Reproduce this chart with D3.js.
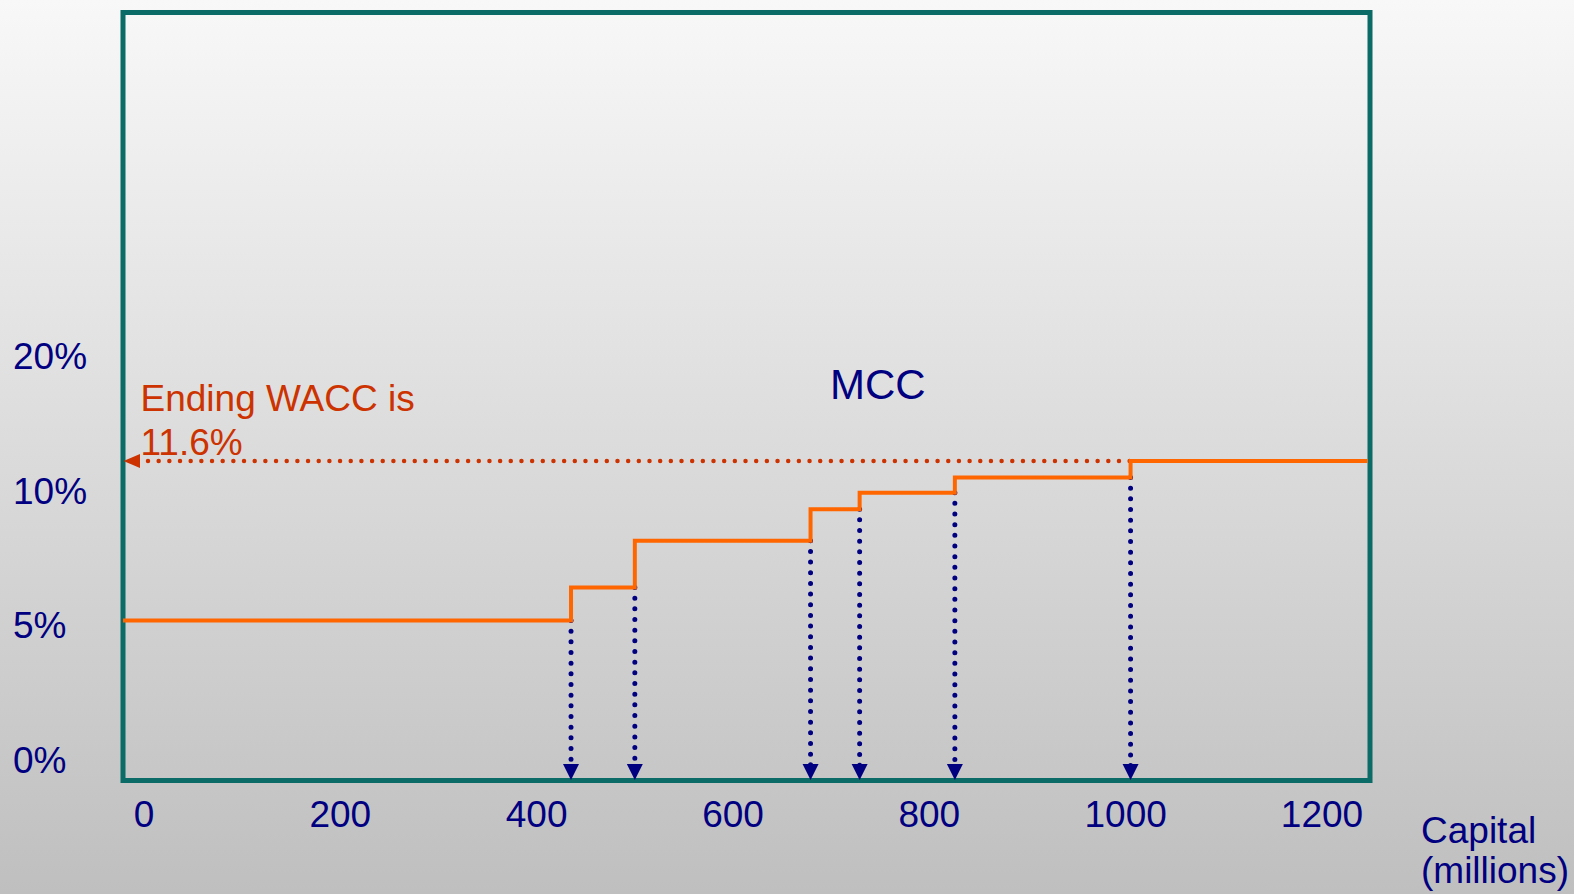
<!DOCTYPE html>
<html>
<head>
<meta charset="utf-8">
<script src="https://cdn.jsdelivr.net/npm/d3@7"></script>
<style>
  html, body { margin: 0; padding: 0; }
  body { width: 1574px; height: 894px; overflow: hidden; }
  text { font-family: "Liberation Sans", Arial, sans-serif; }
</style>
</head>
<body>
<svg id="chart" width="1574" height="894"></svg>
<script>
// ---- data ----
const breakpoints = [435, 500, 679, 729, 826, 1005];           // capital (millions) where WACC steps up
const waccLevels  = [5.8, 7.0, 8.7, 9.85, 10.45, 11.0, 11.6];   // WACC (%) of each segment
const xTickValues = [0, 200, 400, 600, 800, 1000, 1200];
const yTickLabels = ["0%", "5%", "10%", "20%"];
const endingWacc  = 11.6;
const annotationLines = ["Ending WACC is", "11.6%"];
const seriesLabel = "MCC";
const xTitleLines = ["Capital", "(millions)"];

// ---- layout ----
const W = 1574, H = 894;
const frame = { left: 123, right: 1370, top: 12.5, bottom: 780.5 };
const navy = "#000080", red = "#cc3300", orange = "#ff6600", teal = "#0b6b66";

const svg = d3.select("#chart");

// background gradient
const defs = svg.append("defs");
const grad = defs.append("linearGradient").attr("id", "bg")
  .attr("x1", 0).attr("y1", 0).attr("x2", 0).attr("y2", 1);
grad.append("stop").attr("offset", "0%").attr("stop-color", "#f8f8f8");
grad.append("stop").attr("offset", "100%").attr("stop-color", "#bfbfbf");
svg.append("rect").attr("width", W).attr("height", H).attr("fill", "url(#bg)");

// scales
const x = d3.scaleLinear().domain([0, 1200]).range([144, 1322]);
const y = d3.scaleLinear().domain([0, 11.6]).range([780, 461]);
const yLabelPos = d3.scalePoint().domain(yTickLabels).range([773, 369]);

// frame
svg.append("rect")
  .attr("x", frame.left).attr("y", frame.top)
  .attr("width", frame.right - frame.left).attr("height", frame.bottom - frame.top)
  .attr("fill", "none").attr("stroke", teal).attr("stroke-width", 5);

// step series points
const xStart = x.invert(frame.left), xEnd = x.invert(frame.right - 2.5);
const stepPts = [{c: xStart, v: waccLevels[0]}];
breakpoints.forEach((b, i) => stepPts.push({c: b, v: waccLevels[i + 1]}));
stepPts.push({c: xEnd, v: waccLevels[waccLevels.length - 1]});

// red dotted ending-WACC line
svg.append("line")
  .attr("x1", frame.left + 25).attr("x2", x(breakpoints[breakpoints.length - 1]))
  .attr("y1", y(endingWacc)).attr("y2", y(endingWacc))
  .attr("stroke", red).attr("stroke-width", 4.5)
  .attr("stroke-linecap", "round").attr("stroke-dasharray", "0 10.67");
svg.append("path")
  .attr("d", `M${frame.left + 0.5},${y(endingWacc)} L${frame.left + 17},${y(endingWacc) - 7} L${frame.left + 17},${y(endingWacc) + 7} Z`)
  .attr("fill", red);

// blue dotted drop lines with arrowheads
const drops = svg.append("g");
breakpoints.forEach((b, i) => {
  const px = x(b);
  drops.append("line")
    .attr("x1", px).attr("x2", px)
    .attr("y1", y(waccLevels[i])).attr("y2", 767)
    .attr("stroke", navy).attr("stroke-width", 5)
    .attr("stroke-linecap", "round").attr("stroke-dasharray", "0 10.67");
  drops.append("path")
    .attr("d", `M${px - 8},764 L${px + 8},764 L${px},780 Z`)
    .attr("fill", navy);
});

// step line
const line = d3.line().x(d => x(d.c)).y(d => y(d.v)).curve(d3.curveStepAfter);
svg.append("path").datum(stepPts)
  .attr("d", line)
  .attr("fill", "none").attr("stroke", orange).attr("stroke-width", 4);

// y labels
svg.append("g").selectAll("text").data(yTickLabels).join("text")
  .attr("x", 13).attr("y", d => yLabelPos(d))
  .attr("font-size", 37).attr("fill", navy).text(d => d);

// x labels
svg.append("g").selectAll("text").data(xTickValues).join("text")
  .attr("x", d => x(d)).attr("y", 827).attr("text-anchor", "middle")
  .attr("font-size", 37).attr("fill", navy).text(d => d);

// x title
svg.append("g").selectAll("text").data(xTitleLines).join("text")
  .attr("x", 1421).attr("y", (d, i) => 843 + i * 40)
  .attr("font-size", 37).attr("fill", navy).text(d => d);

// series label
svg.append("text").attr("x", 830).attr("y", 399)
  .attr("font-size", 42).attr("fill", navy).text(seriesLabel);

// annotation
svg.append("g").selectAll("text").data(annotationLines).join("text")
  .attr("x", 140.5).attr("y", (d, i) => 411 + i * 44)
  .attr("font-size", 37).attr("fill", red).text(d => d);
</script>
</body>
</html>
